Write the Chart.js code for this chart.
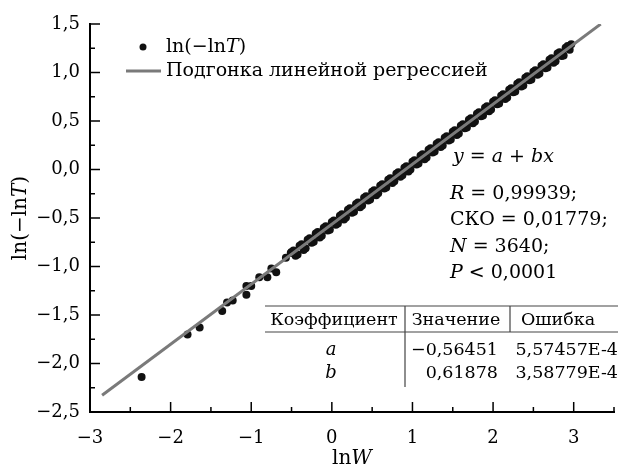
<!DOCTYPE html>
<html>
<head>
<meta charset="utf-8">
<script src="https://cdn.jsdelivr.net/npm/chart.js@4.4.1/dist/chart.umd.min.js"></script>
<style>
  html, body { margin: 0; padding: 0; background: #fff; }
  #wrap { width: 618px; height: 470px; }
</style>
</head>
<body>
<div id="wrap"><canvas id="myChart" width="618" height="470"></canvas></div>
<script>
const lnW = [
  -2.36, -1.79, -1.64, -1.36, -1.30, -1.23, -1.06, -1.06, -1.00, -0.90, -0.80, -0.75, -0.69, -0.57, -0.51,
  -0.5, -0.4, -0.3, -0.2, -0.1, 0.0, 0.1, 0.2, 0.3, 0.4, 0.5, 0.6, 0.7, 0.8, 0.9, 1.0, 1.1, 1.2,
  1.3, 1.4, 1.5, 1.6, 1.7, 1.8, 1.9, 2.0, 2.1, 2.2, 2.3, 2.4, 2.5, 2.6, 2.7, 2.8, 2.9,
  -0.45, -0.35, -0.25, -0.15, -0.05, 0.05, 0.15, 0.25, 0.35, 0.45, 0.55, 0.65, 0.75, 0.85, 0.95, 1.05,
  1.15, 1.25, 1.35, 1.45, 1.55, 1.65, 1.75, 1.85, 1.95, 2.05, 2.15, 2.25, 2.35, 2.45, 2.55, 2.65,
  2.75, 2.85, 2.95, 2.97,
  -0.475, -0.375, -0.275, -0.175, -0.075, 0.025, 0.125, 0.225, 0.325, 0.425, 0.525, 0.625, 0.725, 0.825,
  0.925, 1.025, 1.125, 1.225, 1.325, 1.425, 1.525, 1.625, 1.725, 1.825, 1.925, 2.025, 2.125, 2.225,
  2.325, 2.425, 2.525, 2.625, 2.725, 2.825, 2.925,
  -0.425, -0.325, -0.225, -0.125, -0.025, 0.075, 0.175, 0.275, 0.375, 0.475, 0.575, 0.675, 0.775, 0.875,
  0.975, 1.075, 1.175, 1.275, 1.375, 1.475, 1.575, 1.675, 1.775, 1.875, 1.975, 2.075, 2.175, 2.275,
  2.375, 2.475, 2.575, 2.675, 2.775, 2.875
];
const lnLnT = [
  -2.14, -1.70, -1.63, -1.46, -1.37, -1.35, -1.29, -1.20, -1.20, -1.11, -1.11, -1.02, -1.06, -0.91, -0.86,
  -0.85, -0.785, -0.725, -0.66, -0.60, -0.54, -0.478, -0.415, -0.355, -0.29, -0.23, -0.168, -0.106, -0.044, 0.018, 0.080, 0.141, 0.203,
  0.266, 0.327, 0.389, 0.452, 0.512, 0.575, 0.637, 0.698, 0.760, 0.823, 0.884, 0.946, 1.008, 1.070, 1.132, 1.195, 1.256,
  -0.89, -0.83, -0.755, -0.70, -0.63, -0.57, -0.515, -0.445, -0.39, -0.32, -0.265, -0.195, -0.14, -0.075, -0.02, 0.052,
  0.105, 0.175, 0.232, 0.30, 0.355, 0.425, 0.478, 0.548, 0.60, 0.672, 0.728, 0.797, 0.855, 0.92, 0.978, 1.045,
  1.10, 1.17, 1.235, 1.29,
  -0.835, -0.77, -0.71, -0.645, -0.585, -0.525, -0.462, -0.40, -0.34, -0.275, -0.215, -0.152, -0.09, -0.028,
  0.034, 0.095, 0.157, 0.218, 0.282, 0.343, 0.405, 0.467, 0.528, 0.59, 0.652, 0.714, 0.776, 0.838,
  0.90, 0.962, 1.024, 1.086, 1.148, 1.21, 1.272,
  -0.875, -0.812, -0.745, -0.682, -0.62, -0.557, -0.495, -0.435, -0.37, -0.31, -0.245, -0.185, -0.122, -0.06,
  0.0, 0.062, 0.125, 0.185, 0.248, 0.31, 0.372, 0.432, 0.495, 0.556, 0.618, 0.68, 0.742, 0.805,
  0.866, 0.928, 0.99, 1.052, 1.115, 1.176
];
// linear fit y = a + b x, drawn between its two ends
const fitX = [-2.85, 3.335];
const fitY = [-2.328, 1.499];

const xTicks = [-3, -2, -1, 0, 1, 2, 3];
const yTicks = [-2.5, -2.0, -1.5, -1.0, -0.5, 0.0, 0.5, 1.0, 1.5];

const annoLines = [
  [["R", 1], [" = 0,99939;", 0]],
  [["СКО = 0,01779;", 0]],
  [["N", 1], [" = 3640;", 0]],
  [["P", 1], [" < 0,0001", 0]]
];
const tableHead = ["Коэффициент", "Значение", "Ошибка"];
const tableNames = ["a", "b"];
const tableValues = ["−0,56451", "0,61878"];
const tableErrors = ["5,57457E-4", "3,58779E-4"];

const FONT = '"DejaVu Serif", "Liberation Serif", serif';
const fmt = v => (v < 0 ? "−" : "") + Math.abs(v).toString().replace(".", ",");
const fmtY = v => (v < 0 ? "−" : "") + Math.abs(v).toFixed(1).replace(".", ",");

// draws text made of runs, each [text, italic]
function drawRuns(ctx, x, y, runs, size, align) {
  let w = 0;
  runs.forEach(r => {
    ctx.font = (r[1] ? "italic " : "") + size + "px " + FONT;
    w += ctx.measureText(r[0]).width;
  });
  let cx = align === "center" ? x - w / 2 : align === "right" ? x - w : x;
  ctx.textAlign = "left";
  runs.forEach(r => {
    ctx.font = (r[1] ? "italic " : "") + size + "px " + FONT;
    ctx.fillText(r[0], cx, y);
    cx += ctx.measureText(r[0]).width;
  });
}

const decorations = {
  id: "decorations",
  afterDraw(chart) {
    const ctx = chart.ctx;
    const xs = chart.scales.x, ys = chart.scales.y;
    const area = chart.chartArea;
    ctx.save();
    ctx.strokeStyle = "#000";
    ctx.lineWidth = 1.5;
    // inward tick marks, major and minor
    for (let v = -3; v <= 3.5; v += 0.5) {
      const px = xs.getPixelForValue(v);
      const len = Number.isInteger(v) ? 10 : 5;
      ctx.beginPath(); ctx.moveTo(px, area.bottom); ctx.lineTo(px, area.bottom - len); ctx.stroke();
    }
    for (let v = -2.5; v <= 1.5; v += 0.25) {
      const py = ys.getPixelForValue(v);
      const len = Math.abs(v * 2 - Math.round(v * 2)) < 1e-6 ? 10 : 5;
      ctx.beginPath(); ctx.moveTo(area.left, py); ctx.lineTo(area.left + len, py); ctx.stroke();
    }

    ctx.fillStyle = "#000";
    ctx.textBaseline = "middle";
    // axis titles
    drawRuns(ctx, (area.left + area.right) / 2, 459, [["ln", 0], ["W", 1]], 20, "center");
    ctx.save();
    ctx.translate(21, (area.top + area.bottom) / 2);
    ctx.rotate(-Math.PI / 2);
    drawRuns(ctx, 0, 0, [["ln(−ln", 0], ["T", 1], [")", 0]], 20, "center");
    ctx.restore();

    // legend
    const pts = chart.data.datasets[0], fit = chart.data.datasets[1];
    ctx.beginPath(); ctx.arc(143, 47, 3.5, 0, Math.PI * 2);
    ctx.fillStyle = pts.backgroundColor; ctx.fill();
    ctx.fillStyle = "#000";
    drawRuns(ctx, 166, 47, [["ln(−ln", 0], ["T", 1], [")", 0]], 19, "left");
    ctx.strokeStyle = fit.borderColor; ctx.lineWidth = fit.borderWidth;
    ctx.beginPath(); ctx.moveTo(126, 71); ctx.lineTo(161, 71); ctx.stroke();
    drawRuns(ctx, 166, 71, [["Подгонка линейной регрессией", 0]], 19, "left");

    // regression statistics
    drawRuns(ctx, 453, 157, [["y", 1], [" = ", 0], ["a", 1], [" + ", 0], ["bx", 1]], 19, "left");
    annoLines.forEach((runs, i) => drawRuns(ctx, 450, 194 + i * 26.3, runs, 19, "left"));

    // coefficient table
    ctx.strokeStyle = "#444"; ctx.lineWidth = 1.2;
    ctx.beginPath();
    ctx.moveTo(265, 306); ctx.lineTo(618, 306);
    ctx.moveTo(265, 332); ctx.lineTo(618, 332);
    ctx.moveTo(405, 306); ctx.lineTo(405, 387);
    ctx.moveTo(510, 306); ctx.lineTo(510, 332);
    ctx.stroke();
    drawRuns(ctx, 334, 320, [[tableHead[0], 0]], 17.5, "center");
    drawRuns(ctx, 456, 320, [[tableHead[1], 0]], 17.5, "center");
    drawRuns(ctx, 558, 320, [[tableHead[2], 0]], 17.5, "center");
    tableNames.forEach((n, i) => {
      const y = 350 + i * 23;
      drawRuns(ctx, 331, y, [[n, 1]], 18, "center");
      drawRuns(ctx, 498, y, [[tableValues[i], 0]], 17.5, "right");
      drawRuns(ctx, 618, y, [[tableErrors[i], 0]], 17.5, "right");
    });
    ctx.restore();
  }
};

const ctx = document.getElementById("myChart").getContext("2d");
new Chart(ctx, {
  type: "scatter",
  data: {
    datasets: [
      {
        label: "ln(−lnT)",
        data: lnW.map((x, i) => ({ x: x, y: lnLnT[i] })),
        backgroundColor: "#111",
        borderWidth: 0,
        pointRadius: 4,
        order: 2
      },
      {
        type: "line",
        label: "Подгонка линейной регрессией",
        data: fitX.map((x, i) => ({ x: x, y: fitY[i] })),
        borderColor: "#7a7a7a",
        borderWidth: 3,
        pointRadius: 0,
        fill: false,
        order: 1
      }
    ]
  },
  options: {
    responsive: false,
    animation: false,
    layout: { padding: { top: 24, right: 1, left: 0, bottom: 0 } },
    plugins: { legend: { display: false }, tooltip: { enabled: false } },
    scales: {
      x: {
        type: "linear",
        min: -3, max: 3.5,
        afterFit: s => { s.height = 58; },
        afterBuildTicks: s => { s.ticks = xTicks.map(v => ({ value: v })); },
        grid: { display: false, drawTicks: false },
        border: { display: true, color: "#000", width: 2 },
        ticks: { padding: 16, color: "#000", font: { family: FONT, size: 18 }, callback: v => fmt(v) }
      },
      y: {
        type: "linear",
        min: -2.5, max: 1.5,
        afterFit: s => { s.width = 90; },
        afterBuildTicks: s => { s.ticks = yTicks.map(v => ({ value: v })); },
        grid: { display: false, drawTicks: false },
        border: { display: true, color: "#000", width: 2 },
        ticks: { padding: 10, color: "#000", font: { family: FONT, size: 18 }, callback: v => fmtY(v) }
      }
    }
  },
  plugins: [decorations]
});
</script>
</body>
</html>
